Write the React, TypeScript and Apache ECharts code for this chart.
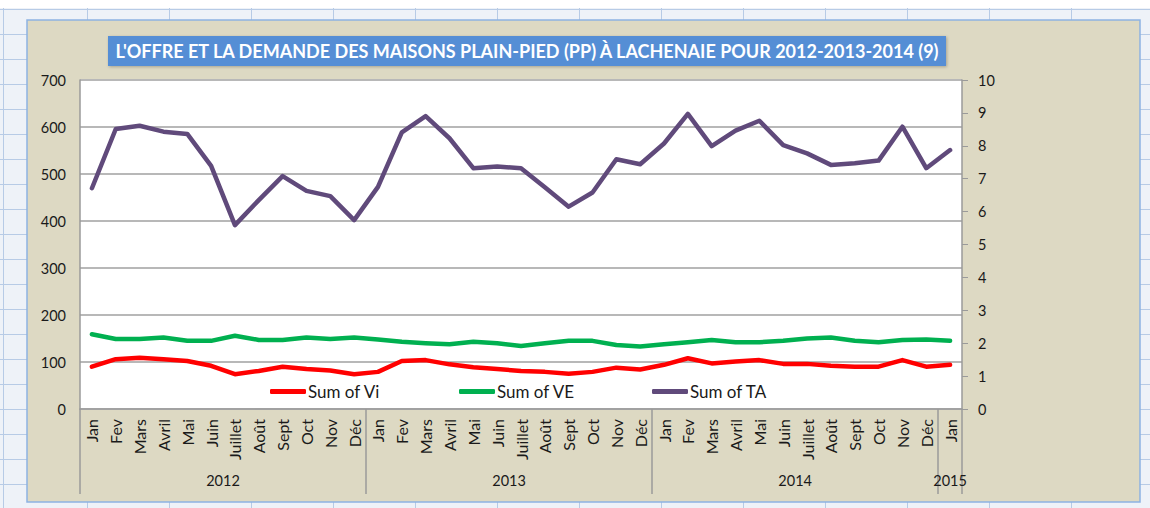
import React, { useEffect, useRef } from "react";
import * as echarts from "echarts";

const TITLE = "L'OFFRE ET LA DEMANDE DES MAISONS PLAIN-PIED (PP) À LACHENAIE POUR 2012-2013-2014 (9)";

const MONTHS_2012 = ["Jan", "Fev", "Mars", "Avril", "Mai", "Juin", "Juillet", "Août", "Sept", "Oct", "Nov", "Déc"];
const MONTHS_2013 = ["Jan", "Fev", "Mars", "Avril", "Mai", "Juin", "Juillet", "Août", "Sept", "Oct", "Nov", "Déc"];
const MONTHS_2014 = ["Jan", "Fev", "Mars", "Avril", "Mai", "Juin", "Juillet", "Août", "Sept", "Oct", "Nov", "Déc"];
const MONTHS_2015 = ["Jan"];
const CATEGORIES = [...MONTHS_2012, ...MONTHS_2013, ...MONTHS_2014, ...MONTHS_2015];

const YEARS = ["2012", "2013", "2014", "2015"];
const YEAR_STARTS = [0, 12, 24, 36];
const YEAR_SPANS = [12, 12, 12, 1];

const SERIES_NAMES = ["Sum of Vi", "Sum of VE", "Sum of TA"];
const SUM_VI = [90, 106, 109, 106, 102, 92, 74, 81, 90, 85, 82, 74,
  79, 102, 104, 95, 89, 85, 81, 79, 75, 79, 88, 84,
  94, 108, 97, 101, 104, 96, 96, 92, 90, 90, 104, 90, 94];
const SUM_VE = [159, 149, 149, 152, 145, 145, 156, 147, 147, 152, 149, 152,
  148, 143, 140, 138, 143, 140, 134, 140, 145, 145, 136, 133,
  138, 142, 147, 142, 142, 145, 150, 152, 145, 142, 147, 148, 145];
const SUM_TA = [6.71, 8.51, 8.61, 8.43, 8.36, 7.39, 5.59, 6.35, 7.08, 6.63, 6.47, 5.74,
  6.75, 8.41, 8.9, 8.23, 7.32, 7.37, 7.32, 6.74, 6.15, 6.58, 7.59, 7.44,
  8.07, 8.97, 7.99, 8.46, 8.76, 8.02, 7.77, 7.42, 7.47, 7.55, 8.58, 7.32, 7.87];

const LEFT_TICKS = { min: 0, max: 700, interval: 100 };
const RIGHT_TICKS = { min: 0, max: 10, interval: 1 };

const COLORS = ["#ff0000", "#00b050", "#604a7b"];
const LEGEND_LEFTS = [265, 454, 647];

const FONT = "Lato, 'Open Sans', sans-serif";
const TXT = "#1a1a1a";

export default function App() {
  const ref = useRef<HTMLDivElement>(null);

  useEffect(() => {
    if (!ref.current) return;
    const chart = echarts.init(ref.current, undefined, { renderer: "svg" });
    const n = CATEGORIES.length;
    const boundaries = [...YEAR_STARTS, n];
    const yearCenters = YEAR_STARTS.map((s, i) => s + YEAR_SPANS[i] / 2);
    const values = [SUM_VI, SUM_VE, SUM_TA];
    const axisIdx = [0, 0, 1];

    chart.setOption({
      animation: false,
      backgroundColor: "transparent",
      textStyle: { fontFamily: FONT },
      graphic: [
        {
          type: "rect",
          shape: { x: 27, y: 20, width: 1113, height: 482 },
          style: { fill: "#ddd9c3", stroke: "#8db3e2", lineWidth: 1.5 },
          z: -10,
          silent: true,
        },
        {
          type: "rect",
          shape: { x: 108, y: 36, width: 838, height: 30 },
          style: {
            fill: "#558ed5",
            shadowBlur: 3,
            shadowColor: "rgba(0,0,0,0.25)",
            shadowOffsetX: 1,
            shadowOffsetY: 1,
          },
          silent: true,
        },
        {
          type: "text",
          x: 527,
          y: 51,
          style: {
            text: TITLE,
            fill: "#ffffff",
            font: `bold 18px ${FONT}`,
            align: "center",
            verticalAlign: "middle",
          },
          silent: true,
        },
      ],
      legend: SERIES_NAMES.map((name, i) => ({
        left: LEGEND_LEFTS[i],
        top: 378,
        icon: "roundRect",
        itemWidth: 36,
        itemHeight: 5,
        itemGap: 4,
        textStyle: { fontSize: 17, color: TXT, fontFamily: FONT, padding: [0, 0, 0, -3] },
        data: [name],
      })),
      grid: {
        left: 80,
        right: 188,
        top: 80,
        bottom: 99,
        containLabel: false,
        show: true,
        backgroundColor: "#ffffff",
        borderWidth: 0,
      },
      xAxis: [
        {
          type: "category",
          data: CATEGORIES,
          boundaryGap: true,
          axisLine: { show: true, lineStyle: { color: "#9a9a9a", width: 1.5 } },
          axisTick: { show: false },
          axisLabel: {
            rotate: 90,
            interval: 0,
            margin: 10,
            fontSize: 16,
            color: TXT,
            fontFamily: FONT,
          },
          splitLine: { show: false },
        },
        {
          type: "value",
          min: 0,
          max: n,
          position: "bottom",
          axisLine: { show: false },
          splitLine: { show: false },
          axisTick: {
            show: true,
            customValues: boundaries,
            length: 85,
            lineStyle: { color: "#9a9a9a", width: 1.5 },
          },
          axisLabel: {
            show: true,
            customValues: yearCenters,
            margin: 64,
            fontSize: 14.5,
            color: TXT,
            fontFamily: FONT,
            formatter: (v: number) => {
              const i = yearCenters.findIndex((c) => Math.abs(c - v) < 1e-6);
              return i >= 0 ? YEARS[i] : "";
            },
          },
        },
      ],
      yAxis: [
        {
          type: "value",
          ...LEFT_TICKS,
          position: "left",
          axisLine: { show: true, lineStyle: { color: "#9a9a9a", width: 1.5 } },
          axisTick: { show: false },
          axisLabel: { margin: 14, fontSize: 14.5, color: TXT, fontFamily: FONT },
          splitLine: { show: true, lineStyle: { color: "#b8b8b8", width: 2 } },
        },
        {
          type: "value",
          ...RIGHT_TICKS,
          position: "right",
          axisLine: { show: true, lineStyle: { color: "#9a9a9a", width: 1.5 } },
          axisTick: { show: true, length: 6, lineStyle: { color: "#9a9a9a" } },
          axisLabel: { margin: 16, fontSize: 14.5, color: TXT, fontFamily: FONT },
          splitLine: { show: false },
        },
      ],
      series: SERIES_NAMES.map((name, i) => ({
        name,
        type: "line",
        data: values[i],
        yAxisIndex: axisIdx[i],
        symbol: "none",
        lineStyle: { color: COLORS[i], width: 4.5, cap: "round", join: "round" },
        itemStyle: { color: COLORS[i] },
      })),
    });
    return () => chart.dispose();
  }, []);

  const sheetBg = [
    "repeating-linear-gradient(to bottom, transparent 0px, transparent 24px, #b7cbe6 24px, #b7cbe6 25px)",
    "repeating-linear-gradient(to right, transparent 0px, transparent 81px, #b7cbe6 81px, #b7cbe6 82px)",
  ].join(",");

  return (
    <div style={{ position: "fixed", left: 0, top: 0, width: 1150, height: 508, background: "#ffffff", overflow: "hidden" }}>
      <div
        style={{
          position: "absolute",
          left: 0,
          top: 8,
          width: 1150,
          height: 500,
          backgroundColor: "#eef2f8",
          backgroundImage: sheetBg,
          backgroundPosition: "6px 2px",
        }}
      />
      <div ref={ref} style={{ position: "absolute", left: 0, top: 0, width: 1150, height: 508 }} />
    </div>
  );
}
